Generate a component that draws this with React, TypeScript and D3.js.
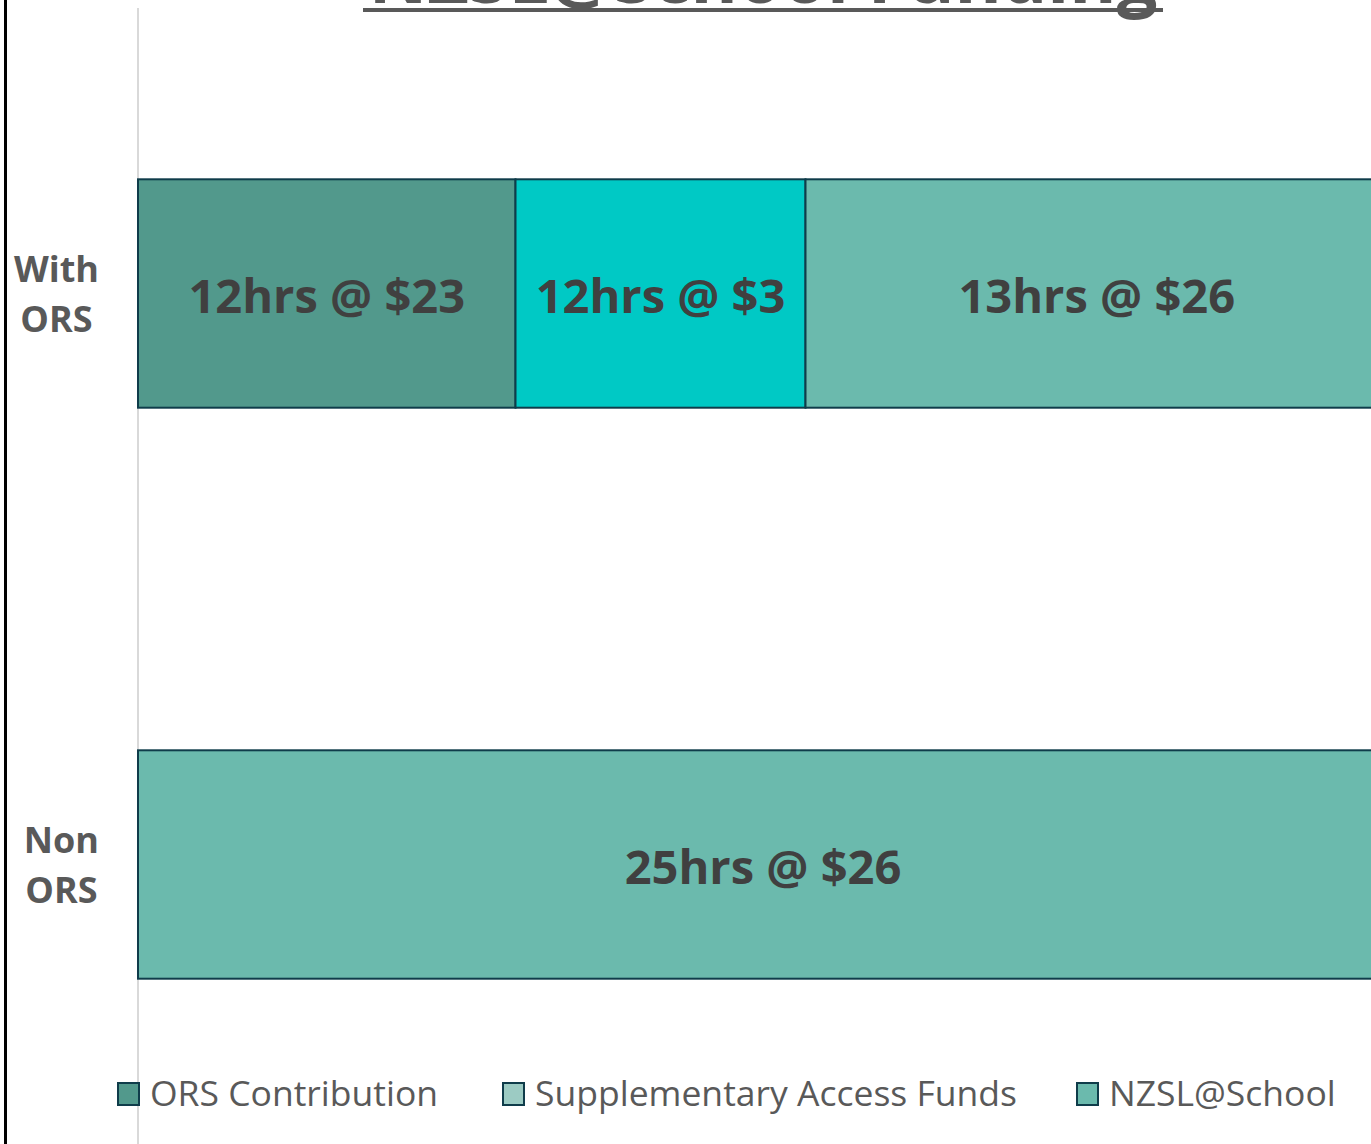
import React, { useLayoutEffect, useRef, useState } from "react";
import * as d3 from "d3";

const categories = ["With ORS", "Non ORS"];
const categoryLines = [["With", "ORS"], ["Non", "ORS"]];
const seriesNames = ["ORS Contribution", "Supplementary Access Funds", "NZSL@School"];
const orsContribution = [30.2, 0];
const supplementaryFunds = [23.2, 0];
const nzslSchool = [46.6, 100];
const dataLabels = [
  ["12hrs @ $23", "12hrs @ $3", "13hrs @ $26"],
  ["", "", "25hrs @ $26"],
];
const barColors = ["#52998C", "#00C9C5", "#6BBAAD"];
const legendColors = ["#52998C", "#9CCBC3", "#6BBAAD"];
const title = "NZSL@School Funding";

const W = 1371;
const H = 1144;
const FONT = "'Open Sans', 'Noto Sans', sans-serif";

export default function App() {
  const x = d3.scaleLinear().domain([0, 100]).range([138, 1388]);
  const y = d3.scaleBand<string>().domain(categories).range([8, 1150]).paddingInner(0.6).paddingOuter(0.3);

  const table = categories.map((c, i) => ({
    cat: c,
    ors: orsContribution[i],
    supp: supplementaryFunds[i],
    nzsl: nzslSchool[i],
  }));
  const keys = ["ors", "supp", "nzsl"];
  const stacked = d3.stack<any>().keys(keys)(table);

  const legendX = [117, 502, 1076];

  const labelRefs = useRef<(SVGTextElement | null)[]>([]);
  const [labelWidths, setLabelWidths] = useState<number[]>(categories.map(() => 80));
  useLayoutEffect(() => {
    const ws = labelRefs.current.map((el) => {
      if (!el) return 80;
      let m = 0;
      el.querySelectorAll("tspan").forEach((t) => {
        m = Math.max(m, (t as SVGTextContentElement).getComputedTextLength());
      });
      return m;
    });
    setLabelWidths(ws);
  }, []);

  return (
    <svg width={W} height={H} style={{ position: "absolute", left: 0, top: 0, background: "#fff" }} fontFamily={FONT}>
      <rect x={0} y={0} width={W} height={H} fill="#fff" />
      {/* title */}
      <text x={763} y={3} textAnchor="middle" fontSize={72} fontWeight={700} fill="#595959">{title}</text>
      <rect x={363} y={8} width={800} height={4} fill="#595959" />
      {/* axis line */}
      <line x1={138} x2={138} y1={8} y2={H} stroke="#D9D9D9" strokeWidth={2} />
      {/* bars */}
      {stacked.map((s, si) =>
        s.map((d, i) => {
          const w = x(d[1]) - x(d[0]);
          if (w <= 0) return null;
          return (
            <rect
              key={`${si}-${i}`}
              x={x(d[0])}
              y={y(categories[i])!}
              width={w}
              height={y.bandwidth()}
              fill={barColors[si]}
              stroke="#0F3C4A"
              strokeWidth={2}
            />
          );
        })
      )}
      {/* data labels */}
      {stacked.map((s, si) =>
        s.map((d, i) => {
          const lbl = dataLabels[i][si];
          if (!lbl) return null;
          const cx = (x(d[0]) + x(d[1])) / 2;
          const cy = y(categories[i])! + y.bandwidth() / 2;
          return (
            <text key={`l-${si}-${i}`} x={cx} y={cy + 19} textAnchor="middle" fontSize={47} fontWeight={700} fill="#404040">
              {lbl}
            </text>
          );
        })
      )}
      {/* category labels */}
      {categories.map((c, i) => {
        const cy = y(c)! + y.bandwidth() / 2;
        const cx = 99 - labelWidths[i] / 2;
        return (
          <text
            key={c}
            ref={(el) => { labelRefs.current[i] = el; }}
            textAnchor="middle"
            fontSize={36}
            fontWeight={700}
            fill="#595959"
          >
            <tspan x={cx} y={cy - 12}>{categoryLines[i][0]}</tspan>
            <tspan x={cx} y={cy + 38}>{categoryLines[i][1]}</tspan>
          </text>
        );
      })}
      {/* legend */}
      {seriesNames.map((n, i) => (
        <g key={n}>
          <rect x={legendX[i] + 1} y={1083} width={21} height={22} fill={legendColors[i]} stroke="#0F3C4A" strokeWidth={2} />
          <text x={legendX[i] + 33} y={1106} fontSize={35.5} fill="#595959">{n}</text>
        </g>
      ))}
      {/* left border */}
      <line x1={5.5} x2={5.5} y1={0} y2={H} stroke="#000" strokeWidth={3} />
    </svg>
  );
}
